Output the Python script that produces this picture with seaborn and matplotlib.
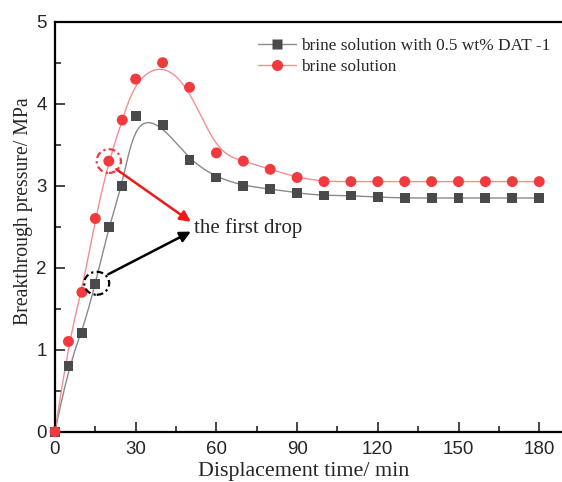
import numpy as np
import pandas as pd
import matplotlib
matplotlib.use('Agg')
import matplotlib.pyplot as plt
from matplotlib.lines import Line2D
from matplotlib.patches import Ellipse
import seaborn as sns

# data
time_min = [0, 5, 10, 15, 20, 25, 30, 40, 50, 60, 70, 80, 90, 100, 110, 120, 130, 140, 150, 160, 170, 180]
dat_pressure = [0, 0.8, 1.2, 1.8, 2.5, 3.0, 3.85, 3.74, 3.31, 3.10, 3.00, 2.96, 2.91, 2.88, 2.88, 2.86,
                2.85, 2.85, 2.85, 2.85, 2.85, 2.85]
brine_pressure = [0, 1.1, 1.7, 2.6, 3.3, 3.8, 4.3, 4.5, 4.2, 3.4, 3.3, 3.2, 3.1, 3.05, 3.05, 3.05,
                  3.05, 3.05, 3.05, 3.05, 3.05, 3.05]
series_names = ['brine solution with 0.5 wt% DAT -1', 'brine solution']

SERIF = 'Liberation Serif'
SANS = 'Liberation Sans'


def bspline(xs, ys, num=600):
    # clamped cubic B-spline with the data points as control points (Origin style smoothing)
    pts = np.column_stack([xs, ys]).astype(float)
    n = len(pts)
    k = 3
    knots = np.concatenate([np.zeros(k), np.arange(n - k + 1), np.full(k, n - k)]).astype(float)
    t = np.linspace(0, n - k, num)
    t[-1] -= 1e-9
    B = np.zeros((num, len(knots) - 1))
    for i in range(len(knots) - 1):
        B[:, i] = (knots[i] <= t) & (t < knots[i + 1])
    for d in range(1, k + 1):
        Bn = np.zeros((num, len(knots) - 1 - d))
        for i in range(len(knots) - 1 - d):
            a = knots[i + d] - knots[i]
            b = knots[i + d + 1] - knots[i + 1]
            left = (t - knots[i]) / a * B[:, i] if a > 0 else 0
            right = (knots[i + d + 1] - t) / b * B[:, i + 1] if b > 0 else 0
            Bn[:, i] = left + right
        B = Bn
    curve = B @ pts
    return curve[:, 0], curve[:, 1]


sns.set_style('ticks')
plt.rcParams['font.family'] = [SANS, 'DejaVu Sans']
plt.rcParams['xtick.direction'] = 'in'
plt.rcParams['ytick.direction'] = 'in'

fig = plt.figure(figsize=(5.62, 4.82), dpi=100)
# right spine sits just outside the picture, as in the reference
AX_W = 512
AX_H = 410
ax = fig.add_axes([55 / 562, 1 - 431.7 / 482, AX_W / 562, AX_H / 482])

colors = {'dat': ('#4a4a4a', '#8a8a8a'), 'brine': ('#f03a3e', '#f58f8f')}

for key, ys in [('dat', dat_pressure), ('brine', brine_pressure)]:
    cx, cy = bspline(time_min, ys)
    curve = pd.DataFrame({'t': cx, 'p': cy})
    sns.lineplot(data=curve, x='t', y='p', ax=ax, color=colors[key][1], lw=1.0, sort=False,
                 estimator=None, zorder=2)

pts = pd.DataFrame({'t': time_min, 'dat': dat_pressure, 'brine': brine_pressure})
sns.scatterplot(data=pts, x='t', y='dat', ax=ax, marker='s', s=50, color=colors['dat'][0],
                edgecolor='none', zorder=3, clip_on=False)
sns.scatterplot(data=pts, x='t', y='brine', ax=ax, marker='o', s=62, color=colors['brine'][0],
                edgecolor='none', zorder=4, clip_on=False)

ax.set_xlim(0, AX_W / 2.69)
ax.set_ylim(0, 5)
ax.set_xticks(range(0, 181, 30))
ax.set_xticks(range(15, 181, 30), minor=True)
ax.set_yticks(range(0, 6))
ax.set_yticks(np.arange(0.5, 5, 1.0), minor=True)
ax.tick_params(which='major', length=7, width=1.2, labelsize=13.5)
ax.tick_params(axis='x', which='major', pad=7)
ax.tick_params(axis='y', which='major', pad=6)
ax.tick_params(which='minor', length=4, width=1.2)
ax.tick_params(top=False, right=False, which='both')
for side in ['left', 'bottom', 'top', 'right']:
    ax.spines[side].set_linewidth(1.6)
    ax.spines[side].set_color('black')

ax.set_xlabel('Displacement time/ min', family=[SERIF], fontsize=15.8)
ax.set_ylabel('Breakthrough pressure/ MPa', family=[SERIF], fontsize=14.2)
ax.xaxis.set_label_coords((304 - 55) / AX_W, -(462 - 431.7) / AX_H)
ax.yaxis.set_label_coords((33 - 55) / AX_W, (431.7 - 211) / AX_H)

# annotations
ax.add_patch(Ellipse((20, 3.3), 9.0, 0.29, fill=False, ec='#f03a3e', lw=1.6, ls=(0, (3, 1.5, 1, 1.5)), zorder=5))
ax.add_patch(Ellipse((15.5, 1.81), 9.3, 0.28, fill=False, ec='black', lw=1.6, ls=(0, (3, 1.5, 1, 1.5)), zorder=5))
ax.annotate('', xy=(50.5, 2.56), xytext=(22.8, 3.2),
            arrowprops=dict(arrowstyle='-|>', color='#f01818', lw=1.8, mutation_scale=16,
                            shrinkA=0, shrinkB=0))
ax.annotate('', xy=(50.5, 2.44), xytext=(19.8, 1.92),
            arrowprops=dict(arrowstyle='-|>', color='black', lw=1.8, mutation_scale=16,
                            shrinkA=0, shrinkB=0))
ax.text(51.8, 2.48, 'the first drop', family=[SERIF], fontsize=15, va='center', ha='left')

handles = [Line2D([], [], color=colors['dat'][1], lw=1.0, marker='s', ms=7,
                  mfc=colors['dat'][0], mec='none'),
           Line2D([], [], color=colors['brine'][1], lw=1.0, marker='o', ms=8,
                  mfc=colors['brine'][0], mec='none')]
ax.legend(handles, series_names, loc='upper left', bbox_to_anchor=(196 / AX_W, 0.978), frameon=False,
          prop={'family': SERIF, 'size': 12.4}, handlelength=2.2, handletextpad=0.3,
          labelspacing=0.3, borderaxespad=0.0)

fig.savefig('out.png', dpi=100)
